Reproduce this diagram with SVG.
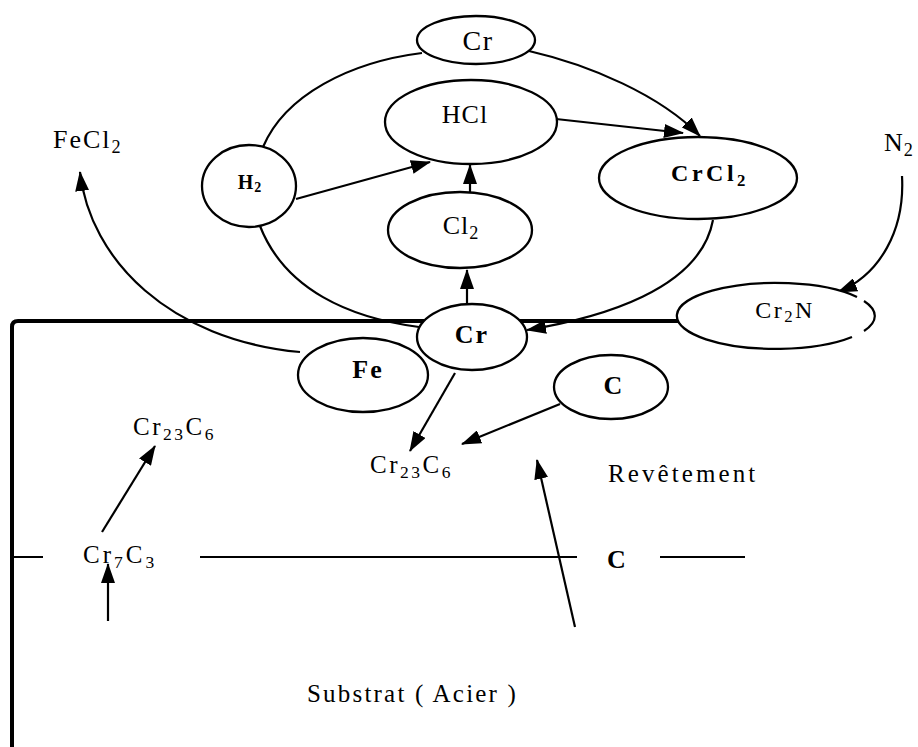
<svg xmlns="http://www.w3.org/2000/svg" width="918" height="747" viewBox="0 0 918 747">
<style>
  .n { fill: #fff; stroke: #000; stroke-width: 2.3; }
  .c { fill: none; stroke: #000; stroke-width: 2.2; }
  .a { fill: none; stroke: #000; stroke-width: 2.2; marker-end: url(#ah); }
  .t { font-family: "Liberation Serif", "Times New Roman", serif; font-size: 25px; fill: #000; letter-spacing: 2px; }
  .m { text-anchor: middle; }
  .b { font-weight: bold; }
  .s { font-size: 70%; }
</style>
<defs>
  <marker id="ah" markerUnits="userSpaceOnUse" markerWidth="20" markerHeight="14" refX="19" refY="7" orient="auto">
    <path d="M0,0 L20,7 L0,14 z" fill="#000"/>
  </marker>
</defs>
<rect width="918" height="747" fill="#fff"/>

<g id="boundaries">
  <path d="M12,747 L12,327 Q12,321 18,321 L680,321" fill="none" stroke="#000" stroke-width="4"/>
  <path d="M12,557 L43,557 M200,557 L577,557 M660,557 L745,557" fill="none" stroke="#000" stroke-width="2.2"/>
</g>

<g id="connectors">
  <path class="c" d="M263,147 C285,95 350,62 422,53"/>
  <path class="c" d="M260,226 C285,290 350,318 419,327"/>
  <path class="a" d="M529,51 C590,65 660,95 700,136"/>
  <path class="a" d="M556,119 L683,133"/>
  <path class="a" d="M296,199 L430,162"/>
  <path class="a" d="M470,192 L470,165"/>
  <path class="a" d="M467,304 L467,270"/>
  <path class="a" d="M713,220 C700,290 600,318 527,330"/>
  <path class="a" d="M902,176 C905,230 880,275 838,292"/>
  <path class="a" d="M300,352 C170,340 90,260 80,172"/>
  <path class="a" d="M455,373 L410,451"/>
  <path class="a" d="M560,404 L462,444"/>
  <path class="a" d="M575,627 L537,460"/>
  <path class="a" d="M102,532 L155,446"/>
  <path class="a" d="M108,621 L108,564"/>
</g>

<g id="cr-top">
  <ellipse class="n" cx="476" cy="40" rx="59" ry="24"/>
  <text class="t m" x="478" y="50" style="font-size:28px;letter-spacing:1.5px">Cr</text>
</g>
<g id="hcl">
  <ellipse class="n" cx="471" cy="122" rx="86" ry="42"/>
  <text class="t m" x="465" y="123" style="font-size:26px;letter-spacing:1px">HCl</text>
</g>
<g id="h2">
  <ellipse class="n" cx="249" cy="186" rx="47" ry="41"/>
  <text class="t m b" x="250" y="189" style="font-size:20px;letter-spacing:1px">H<tspan class="s" dy="3">2</tspan></text>
</g>
<g id="cl2">
  <ellipse class="n" cx="460" cy="230" rx="72" ry="38"/>
  <text class="t m" x="461" y="234" style="font-size:26px;letter-spacing:1px">Cl<tspan class="s" dy="5">2</tspan></text>
</g>
<g id="crcl2">
  <ellipse class="n" cx="698" cy="178" rx="99" ry="41"/>
  <text class="t m b" x="710" y="181" style="font-size:24px;letter-spacing:3.5px">CrCl<tspan class="s" dy="5">2</tspan></text>
</g>
<g id="cr-surface">
  <ellipse class="n" cx="472" cy="337" rx="55" ry="33"/>
  <text class="t m b" x="472" y="343" style="font-size:26px;letter-spacing:2px">Cr</text>
</g>
<g id="fe">
  <ellipse class="n" cx="363" cy="375" rx="65" ry="37"/>
  <text class="t m b" x="368" y="378" style="font-size:26px;letter-spacing:2px">Fe</text>
</g>
<g id="c-node">
  <ellipse class="n" cx="611" cy="387" rx="57" ry="32"/>
  <text class="t m b" x="613" y="394" style="font-size:26px;letter-spacing:0px">C</text>
</g>
<g id="cr2n">
  <path class="n" d="M857,297 A99,33 0 1,0 852,337"/>
  <path class="c" d="M864,301 A99,33 0 0,1 864,331" stroke-width="2.3"/>
  <text class="t m" x="785" y="318" style="font-size:24px;letter-spacing:2.5px">Cr<tspan class="s" dy="4">2</tspan><tspan dy="-4">N</tspan></text>
</g>

<g id="labels">
  <text class="t" x="53" y="148" style="font-size:26px;letter-spacing:2px">FeCl<tspan class="s" dy="5">2</tspan></text>
  <text class="t" x="884" y="151" style="font-size:26px;letter-spacing:1px">N<tspan class="s" dy="5">2</tspan></text>
  <text class="t" x="133" y="435" style="letter-spacing:2.5px">Cr<tspan class="s" dy="5">23</tspan><tspan dy="-5">C</tspan><tspan class="s" dy="5">6</tspan></text>
  <text class="t" x="370" y="473" style="letter-spacing:2.5px">Cr<tspan class="s" dy="5">23</tspan><tspan dy="-5">C</tspan><tspan class="s" dy="5">6</tspan></text>
  <text class="t" x="83" y="563" style="letter-spacing:3px">Cr<tspan class="s" dy="5">7</tspan><tspan dy="-5">C</tspan><tspan class="s" dy="5">3</tspan></text>
  <text class="t b" x="607" y="568" style="font-size:26px">C</text>
  <text class="t" x="608" y="482" style="letter-spacing:3.1px">Revêtement</text>
  <text class="t" x="307" y="702" style="letter-spacing:2.2px">Substrat ( Acier )</text>
</g>
</svg>
